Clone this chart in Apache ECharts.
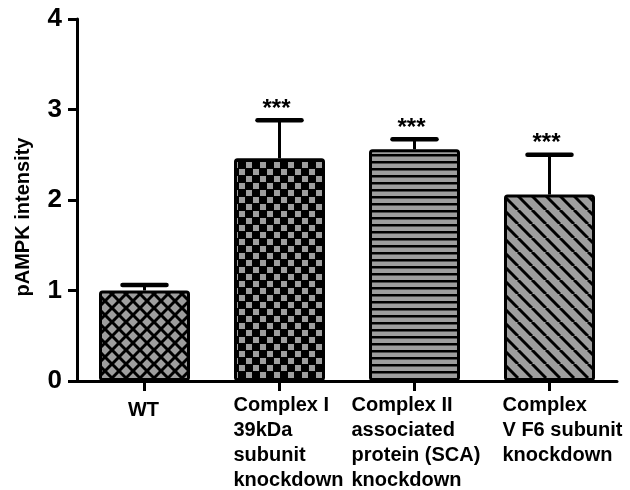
<!DOCTYPE html>
<html>
<head>
<meta charset="utf-8">
<style>
html,body{margin:0;padding:0;background:#fff;}
#chart{width:630px;height:490px;}
</style>
<script src="https://cdn.jsdelivr.net/npm/echarts@6/dist/echarts.min.js"></script>
</head>
<body>
<div id="chart"></div>
<script>
// ---- data ----
var categories = ['WT', 'Complex I\n39kDa\nsubunit\nknockdown', 'Complex II\nassociated\nprotein (SCA)\nknockdown', 'Complex\nV F6 subunit\nknockdown'];
var means = [1.00, 2.46, 2.56, 2.06];
var errors = [0.06, 0.42, 0.11, 0.44];
var significance = ['', '***', '***', '***'];
var yTicks = [0, 1, 2, 3, 4];
var yTitle = 'pAMPK intensity';

// ---- styles ----
var GRAY = '#9e9e9e';
var FONT = '"Liberation Sans", Arial, sans-serif';

function makeCanvas(w, h) {
  var c = document.createElement('canvas');
  c.width = w; c.height = h;
  return c;
}
function patDiamond() {
  var P = 14, c = makeCanvas(P, P), g = c.getContext('2d');
  g.fillStyle = GRAY; g.fillRect(0, 0, P, P);
  g.strokeStyle = '#000'; g.lineWidth = 3;
  for (var k = -1; k <= 1; k++) {
    g.beginPath(); g.moveTo(k * P, 0); g.lineTo(k * P + P, P); g.stroke();
    g.beginPath(); g.moveTo(k * P + P, 0); g.lineTo(k * P, P); g.stroke();
  }
  return c;
}
function patChecker() {
  var P = 14, c = makeCanvas(P, P), g = c.getContext('2d');
  g.fillStyle = '#000'; g.fillRect(0, 0, P, P);
  g.fillStyle = GRAY;
  g.fillRect(1, 1, 6, 6);
  g.fillRect(8, 8, 6, 6);
  return c;
}
function patHStripe() {
  var P = 7, c = makeCanvas(P, P), g = c.getContext('2d');
  g.fillStyle = GRAY; g.fillRect(0, 0, P, P);
  g.fillStyle = '#000'; g.fillRect(0, 0, P, 2.5);
  return c;
}
function patDiag() {
  var P = 14, c = makeCanvas(P, P), g = c.getContext('2d');
  g.fillStyle = GRAY; g.fillRect(0, 0, P, P);
  g.strokeStyle = '#000'; g.lineWidth = 3;
  for (var k = -1; k <= 1; k++) {
    g.beginPath(); g.moveTo(k * P, 0); g.lineTo(k * P + P, P); g.stroke();
  }
  return c;
}
var patterns = [patDiamond(), patChecker(), patHStripe(), patDiag()];

var chart = echarts.init(document.getElementById('chart'), null, {renderer: 'canvas'});

var barData = means.map(function (v, i) {
  return {
    value: v,
    itemStyle: {
      color: {image: patterns[i], repeat: 'repeat'},
      borderColor: '#000',
      borderWidth: 3,
      borderRadius: 2
    }
  };
});
var errData = means.map(function (v, i) { return [i, v, v + errors[i], significance[i]]; });

var option = {
  animation: false,
  backgroundColor: '#fff',
  grid: {left: 77, right: 13, top: 19, bottom: 109, containLabel: false},
  xAxis: {
    type: 'category',
    data: categories,
    axisLine: {show: true, lineStyle: {color: '#000', width: 3}},
    axisTick: {show: true, alignWithLabel: true, length: 10, lineStyle: {color: '#000', width: 3}},
    axisLabel: {show: false}
  },
  yAxis: {
    type: 'value',
    min: yTicks[0],
    max: yTicks[yTicks.length - 1],
    interval: 1,
    name: yTitle,
    nameLocation: 'middle',
    nameGap: 44,
    nameTextStyle: {fontFamily: FONT, fontWeight: 'bold', fontSize: 20, color: '#000', padding: [0, 34, 0, 0]},
    axisLine: {show: true, lineStyle: {color: '#000', width: 3}},
    axisTick: {show: true, length: 9, lineStyle: {color: '#000', width: 3}},
    axisLabel: {fontFamily: FONT, fontWeight: 'bold', fontSize: 26, color: '#000', margin: 15},
    splitLine: {show: false}
  },
  series: [
    {
      type: 'bar',
      data: barData,
      barWidth: 91,
      z: 2
    },
    {
      type: 'custom',
      z: 1,
      data: errData,
      renderItem: function (params, api) {
        var i = api.value(0);
        var base = api.coord([i, api.value(1)]);
        var top = api.coord([i, api.value(2)]);
        var children = [
          {type: 'line', shape: {x1: base[0], y1: base[1], x2: top[0], y2: top[1]},
           style: {stroke: '#000', lineWidth: 3}},
          {type: 'line', shape: {x1: top[0] - 22, y1: top[1], x2: top[0] + 22, y2: top[1]},
           style: {stroke: '#000', lineWidth: 4.5, lineCap: 'round'}}
        ];
        var sig = errData[params.dataIndex][3];
        if (sig) {
          children.push({type: 'text', x: top[0] - 3, y: top[1] + 1,
            style: {text: sig, fontFamily: FONT, fontWeight: 'bold', fontSize: 24, fill: '#000',
                    align: 'center', verticalAlign: 'bottom'}});
        }
        return {type: 'group', children: children};
      }
    }
  ]
};
chart.setOption(option);

// category labels placed under their ticks
var labelAlign = ['center', 'left', 'left', 'left'];
var labelDx = [-1, -46, -63, -47];
var labelDy = [5, 0, 0, 0];
var graphics = categories.map(function (c, i) {
  var px = chart.convertToPixel({xAxisIndex: 0}, c);
  return {
    type: 'text',
    x: px + labelDx[i],
    y: 393 + labelDy[i],
    style: {text: c, fontFamily: FONT, fontWeight: 'bold', fontSize: 20, lineHeight: 25,
            fill: '#000', align: labelAlign[i], verticalAlign: 'top'}
  };
});
chart.setOption({graphic: graphics});
</script>
</body>
</html>
